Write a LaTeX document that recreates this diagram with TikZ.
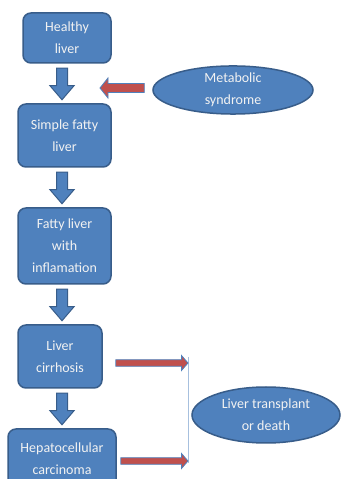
\documentclass[tikz,border=0pt]{standalone}
\usepackage{fontspec}
\setmainfont{Carlito}
\usetikzlibrary{calc,shapes.geometric}
\definecolor{boxblue}{HTML}{4F81BD}
\definecolor{edgeblue}{HTML}{385D8A}
\definecolor{arrowred}{HTML}{C0504D}
\definecolor{lineblue}{HTML}{A7C0DE}
\definecolor{labelgray}{HTML}{F2F2F2}

% block arrow pointing down, drawn on the spine between two stages
\newcommand{\blkdown}[2]{%
  \draw[downblk] let \p1=($(#1.south -| spine)+(0,-4.5)$), \p2=($(#2.north -| spine)+(0,3.5)$) in
    (\x1-5.5pt,\y1) -- (\x1+5.5pt,\y1) -- (\x1+5.5pt,\y2+14pt) -- (\x1+12pt,\y2+14pt)
    -- (\x1,\y2) -- (\x1-12pt,\y2+14pt) -- (\x1-5.5pt,\y2+14pt) -- cycle;}
% horizontal block arrow: tail, tip, shaft half-height, head half-height, head length
\newcommand{\blkleft}[5]{%
  \draw[redblk] let \p1=(#1), \p2=(#2) in
    (\x1,\y1-#3) -- (\x2+#5,\y1-#3) -- (\x2+#5,\y1-#4) -- (\x2,\y1)
    -- (\x2+#5,\y1+#4) -- (\x2+#5,\y1+#3) -- (\x1,\y1+#3) -- cycle;}
\newcommand{\blkright}[5]{%
  \draw[redblk] let \p1=(#1), \p2=(#2) in
    (\x1,\y1-#3) -- (\x2-#5,\y1-#3) -- (\x2-#5,\y1-#4) -- (\x2,\y1)
    -- (\x2-#5,\y1+#4) -- (\x2-#5,\y1+#3) -- (\x1,\y1+#3) -- cycle;}

\begin{document}
\begin{tikzpicture}[x=1pt,y=1pt,
  stage/.style={draw=edgeblue, line width=1.5pt, fill=boxblue, rounded corners=8pt,
    text=labelgray, align=center, font=\fontsize{14}{22}\selectfont, inner sep=0pt},
  cause/.style={ellipse, draw=edgeblue, line width=1.5pt, fill=boxblue,
    text=labelgray, align=center, font=\fontsize{14}{22}\selectfont, inner sep=0pt},
  downblk/.style={draw=edgeblue, line width=1pt, fill=boxblue, line join=miter},
  redblk/.style={draw=boxblue, line width=0.8pt, fill=arrowred, line join=miter},
  joinline/.style={draw=lineblue, line width=0.7pt}]

\useasboundingbox (0,0) rectangle (341,479);
\clip (0,0) rectangle (341,479);
\fill[white] (0,0) rectangle (341,479);

\coordinate (spine) at (62,0);

% disease stages
\node[stage, minimum width=88pt, minimum height=50pt] (healthy) at (67,441) {Healthy\\liver};
\node[stage, minimum width=93pt, minimum height=63pt] (fatty) at (64.5,343.5) {Simple fatty\\liver};
\node[stage, minimum width=93pt, minimum height=76pt] (inflam) at (64.5,233) {Fatty liver\\with\\inflamation};
\node[stage, minimum width=84pt, minimum height=63pt] (cirrh) at (60,122.5) {Liver\\cirrhosis};
\node[stage, minimum width=108pt, minimum height=60pt] (hcc) at (62,20) {Hepatocellular\\carcinoma};

% causes and outcomes
\node[cause, minimum width=160pt, minimum height=44pt] (synd) at (233,389) {Metabolic\\syndrome};
\node[cause, minimum width=148pt, minimum height=56pt] (outcome) at (266,64) {Liver transplant\\or death};

% progression arrows
\blkdown{healthy}{fatty}
\blkdown{fatty}{inflam}
\blkdown{inflam}{cirrh}
\blkdown{cirrh}{hcc}

% metabolic syndrome feeding in
\coordinate (syndtip) at (100,391);
\blkleft{$(synd.west)+(-8,2)$}{syndtip}{4.5pt}{10pt}{8pt}

% late stages leading to the outcome
\coordinate (jointop) at (188,122);
\coordinate (joinbot) at (188,16);
\coordinate (cirrhtip) at (188,116);
\coordinate (hcctip) at (188,18);
\draw[joinline] (jointop) -- (joinbot);
\blkright{$(cirrh.east)+(13,-6.5)$}{cirrhtip}{3.3pt}{7.5pt}{6.5pt}
\blkright{$(hcc.east)+(4,-2)$}{hcctip}{3.3pt}{7.5pt}{6.5pt}
\end{tikzpicture}
\end{document}
